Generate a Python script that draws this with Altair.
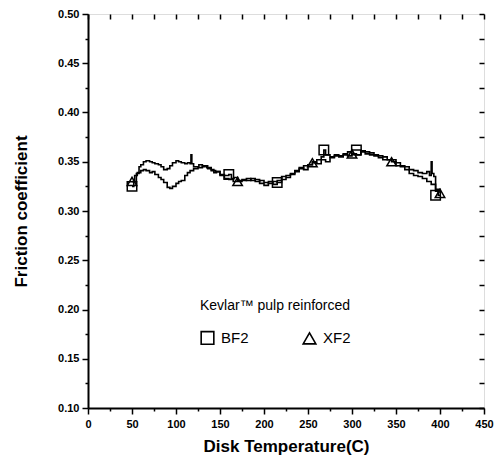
import altair as alt
import pandas as pd

# ---- data ----
bf2_t = [50, 52, 55, 58, 60, 63, 66, 70, 73, 76, 80, 83, 86, 90, 93, 96, 100, 103, 106, 110, 113, 116, 117, 118,
         120, 123, 126, 130, 133, 136, 140, 143, 146, 150, 155, 160, 163, 166, 170, 175, 180, 185, 190, 195, 200,
         205, 210, 215, 220, 225, 230, 235, 240, 245, 250, 255, 260, 265, 268, 270, 275, 280, 285, 290, 295, 300,
         305, 310, 315, 320, 325, 330, 335, 340, 345, 350, 355, 360, 365, 370, 375, 380, 385, 388, 390, 391, 393,
         395, 398, 400]
bf2_v = [0.325, 0.330, 0.338, 0.345, 0.347, 0.350, 0.351, 0.350, 0.349, 0.348, 0.347, 0.345, 0.342, 0.343, 0.346,
         0.349, 0.351, 0.350, 0.349, 0.348, 0.349, 0.348, 0.357, 0.348, 0.345, 0.345, 0.347, 0.345, 0.346, 0.343,
         0.342, 0.339, 0.340, 0.337, 0.336, 0.337, 0.333, 0.334, 0.331, 0.332, 0.331, 0.333, 0.330, 0.331, 0.329,
         0.328, 0.330, 0.329, 0.332, 0.334, 0.338, 0.340, 0.343, 0.346, 0.347, 0.350, 0.352, 0.355, 0.362, 0.357,
         0.355, 0.357, 0.356, 0.358, 0.360, 0.362, 0.362, 0.361, 0.360, 0.359, 0.357, 0.356, 0.355, 0.352, 0.352,
         0.349, 0.346, 0.345, 0.342, 0.341, 0.339, 0.338, 0.340, 0.336, 0.350, 0.338, 0.335, 0.320, 0.316, 0.316]

xf2_t = [50, 53, 56, 60, 63, 66, 70, 73, 76, 80, 83, 86, 90, 93, 96, 100, 103, 106, 110, 113, 116, 120, 125, 130,
         135, 140, 145, 150, 155, 160, 165, 170, 175, 180, 185, 190, 195, 200, 205, 210, 215, 220, 225, 230, 235,
         240, 245, 250, 255, 260, 265, 270, 275, 280, 285, 290, 295, 300, 305, 310, 315, 320, 325, 330, 335, 340,
         345, 350, 355, 360, 365, 370, 375, 380, 385, 390, 395, 400]
xf2_v = [0.330, 0.336, 0.339, 0.341, 0.342, 0.341, 0.339, 0.340, 0.337, 0.334, 0.332, 0.329, 0.324, 0.323, 0.325,
         0.328, 0.330, 0.331, 0.336, 0.339, 0.341, 0.343, 0.344, 0.346, 0.344, 0.341, 0.340, 0.336, 0.333, 0.332,
         0.330, 0.330, 0.331, 0.333, 0.331, 0.332, 0.328, 0.326, 0.330, 0.327, 0.331, 0.335, 0.336, 0.337, 0.341,
         0.344, 0.342, 0.347, 0.349, 0.348, 0.352, 0.350, 0.354, 0.356, 0.355, 0.357, 0.356, 0.358, 0.357, 0.360,
         0.358, 0.357, 0.356, 0.354, 0.352, 0.352, 0.350, 0.346, 0.345, 0.342, 0.338, 0.336, 0.335, 0.333, 0.330,
         0.327, 0.322, 0.318]

bf2_mark_t = [50, 160, 215, 268, 305, 395]
bf2_mark_v = [0.325, 0.337, 0.329, 0.362, 0.362, 0.316]
xf2_mark_t = [50, 170, 255, 300, 345, 400]
xf2_mark_v = [0.330, 0.330, 0.349, 0.358, 0.350, 0.318]

x_ticks = list(range(0, 451, 25))
y_ticks = [round(0.10 + 0.025 * i, 3) for i in range(17)]

lines = pd.concat([
    pd.DataFrame({"t": bf2_t, "v": bf2_v, "s": "BF2"}),
    pd.DataFrame({"t": xf2_t, "v": xf2_v, "s": "XF2"}),
])
marks = pd.concat([
    pd.DataFrame({"t": bf2_mark_t, "v": bf2_mark_v, "s": "BF2"}),
    pd.DataFrame({"t": xf2_mark_t, "v": xf2_mark_v, "s": "XF2"}),
])

FONT = "Liberation Sans"
xs = alt.Scale(domain=[0, 450], nice=False, zero=False)
ys = alt.Scale(domain=[0.10, 0.50], nice=False, zero=False)

x_axis = alt.Axis(values=x_ticks, title="Disk Temperature(C)", grid=False,
                  labelExpr="datum.value % 50 == 0 ? format(datum.value, 'd') : ''",
                  tickSize={"condition": {"test": "datum.value % 50 == 0", "value": 6}, "value": 3},
                  labelFontSize=11, labelFontWeight="bold", labelFont=FONT, labelColor="black",
                  titleFontSize=17, titleFontWeight="bold", titleFont=FONT, titleColor="black",
                  titlePadding=9, labelPadding=4, tickColor="black", tickWidth=1.5,
                  domainColor="black", domainWidth=2, labelFlush=False, labelOverlap=False)
y_axis = alt.Axis(values=y_ticks, title="Friction coefficient", grid=False,
                  labelExpr="round(datum.value*1000) % 50 == 0 ? format(datum.value, '.2f') : ''",
                  tickSize={"condition": {"test": "round(datum.value*1000) % 50 == 0", "value": 6}, "value": 3},
                  labelFontSize=11, labelFontWeight="bold", labelFont=FONT, labelColor="black",
                  titleFontSize=17, titleFontWeight="bold", titleFont=FONT, titleColor="black",
                  titlePadding=27, labelPadding=3, tickColor="black", tickWidth=1.5,
                  domainColor="black", domainWidth=2, labelFlush=False, labelOverlap=False)

line_layer = alt.Chart(lines).mark_line(color="black", strokeWidth=1.6, interpolate="step-after").encode(
    x=alt.X("t:Q", scale=xs, axis=x_axis),
    y=alt.Y("v:Q", scale=ys, axis=y_axis),
    detail="s:N",
)

point_layer = alt.Chart(marks).mark_point(filled=False, color="black", strokeWidth=1.5, size=90, opacity=1).encode(
    x=alt.X("t:Q", scale=xs, axis=None),
    y=alt.Y("v:Q", scale=ys, axis=None),
    shape=alt.Shape("s:N", scale=alt.Scale(domain=["BF2", "XF2"], range=["square", "triangle-up"]),
                    legend=alt.Legend(title="Kevlar\u2122 pulp reinforced", orient="none", legendX=112, legendY=285,
                                      direction="horizontal", columns=2, columnPadding=50,
                                      titleAnchor="middle", titleFontSize=14, titleFontWeight="normal",
                                      titleFont=FONT, titleColor="black", titlePadding=17,
                                      labelFontSize=15, labelFont=FONT, labelColor="black", labelOffset=6,
                                      symbolSize=160, symbolStrokeWidth=1.6, symbolStrokeColor="black",
                                      symbolFillColor="white", padding=0)),
)

top_right = alt.Chart(marks).mark_point(opacity=0).encode(
    x=alt.X("t:Q", scale=xs, axis=alt.Axis(orient="top", values=x_ticks, labels=False, title=None, grid=False,
                                         domain=False, tickSize=5, offset=-5, tickColor="black", tickWidth=1.5)),
    y=alt.Y("v:Q", scale=ys, axis=alt.Axis(orient="right", values=y_ticks, labels=False, title=None, grid=False,
                                         domain=False, tickSize=5, offset=-5, tickColor="black", tickWidth=1.5)),
)

chart = alt.layer(line_layer, point_layer, top_right).resolve_axis(x="independent", y="independent").properties(
    width=396, height=394,
    autosize=alt.AutoSizeParams(type="none"),
    padding={"left": 88, "top": 14, "right": 19, "bottom": 53},
).configure_view(stroke="black", strokeWidth=2).configure(background="white")

chart.save("out.html", embed_options={"renderer": "svg", "actions": False})
